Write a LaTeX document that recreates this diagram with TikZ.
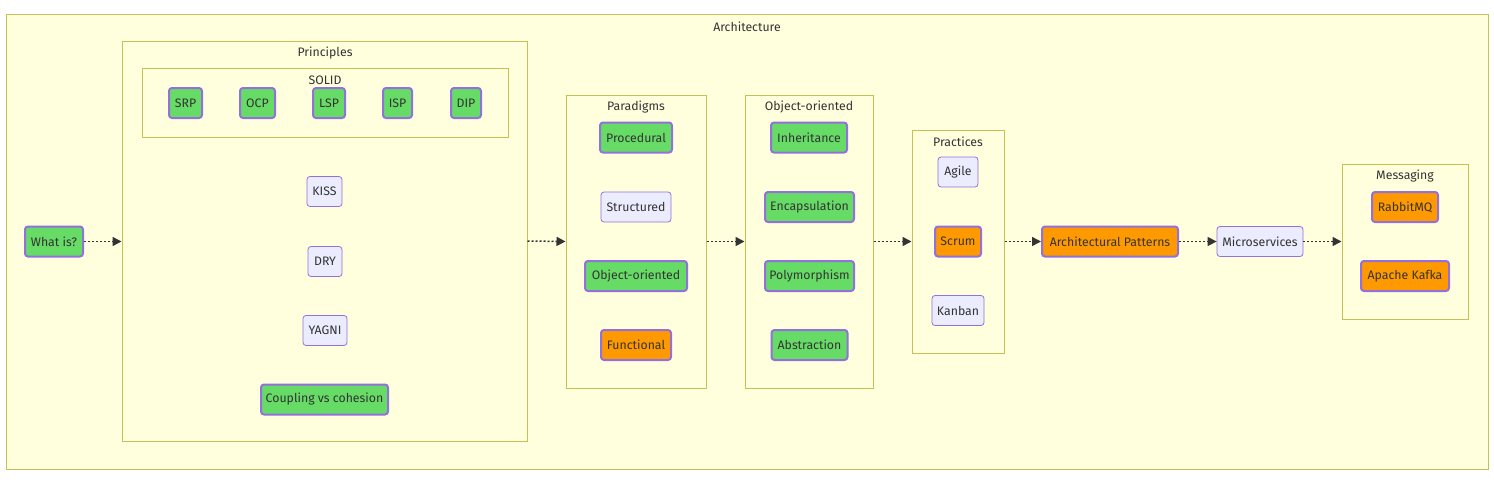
\documentclass[tikz,border=0pt]{standalone}
\usepackage{fontspec}
\setmainfont{Fira Sans}
\usetikzlibrary{arrows.meta}
\definecolor{clfill}{HTML}{FFFFDE}
\definecolor{clline}{HTML}{C2C255}
\definecolor{nfill}{HTML}{ECECFF}
\definecolor{nline}{HTML}{9370DB}
\definecolor{gfill}{HTML}{66DB66}
\definecolor{ofill}{HTML}{FF9900}
\definecolor{txt}{HTML}{333333}
\tikzset{
  cluster/.style={draw=clline, fill=clfill, line width=1pt, inner sep=0pt, rectangle},
  ctitle/.style={text=txt, font=\fontsize{12.3}{14}\selectfont, inner sep=0pt, anchor=center},
  base/.style={rectangle, rounded corners=3pt, text=txt, font=\fontsize{12.3}{14}\selectfont, inner sep=0pt, minimum height=30pt},
  plain/.style={base, draw=nline, fill=nfill, line width=0.8pt},
  green/.style={base, draw=nline, fill=gfill, line width=2pt},
  orange/.style={base, draw=nline, fill=ofill, line width=2pt},
  flow/.style={draw=txt, line width=1.5pt, dash pattern=on 2pt off 2pt, -{Triangle[length=9pt,width=9pt]}, shorten >=0pt}
}
\begin{document}
\begin{tikzpicture}[x=1pt,y=-1pt]
\useasboundingbox[fill=white] (0,0) rectangle (1494,482);
% outer
\node[cluster, minimum width=1482pt, minimum height=455pt] (arch) at (747,241.5) {};
\node[ctitle] (archt) at (747,26.5) {Architecture};
% principles
\node[cluster, minimum width=405pt, minimum height=400pt] (princ) at (324.5,241) {};
\node[ctitle] (princt) at (325,53.5) {Principles};
\node[cluster, minimum width=366pt, minimum height=69pt] (solid) at (325,102.5) {};
\node[ctitle] (solidt) at (325,80) {SOLID};
\node[green, minimum width=33pt] (srp) at (185.5,103) {SRP};
\node[green, minimum width=35pt] (ocp) at (257.5,103) {OCP};
\node[green, minimum width=32pt] (lsp) at (329,103) {LSP};
\node[green, minimum width=29pt] (isp) at (397.5,103) {ISP};
\node[green, minimum width=30pt] (dip) at (466,103) {DIP};
\node[plain, minimum width=35pt] (kiss) at (324.5,191.5) {KISS};
\node[plain, minimum width=34pt] (dry) at (325,261.5) {DRY};
\node[plain, minimum width=44pt] (yagni) at (325,330.5) {YAGNI};
\node[green, minimum width=127pt] (coup) at (324.5,399.5) {Coupling vs cohesion};
\node[green, minimum width=58pt] (what) at (54,241.5) {What is?};
% paradigms
\node[cluster, minimum width=140pt, minimum height=293pt] (para) at (636,241.5) {};
\node[ctitle] (parat) at (636,107) {Paradigms};
\node[green, minimum width=72pt] (proc) at (636,137.5) {Procedural};
\node[plain, minimum width=70pt] (struct) at (636,207) {Structured};
\node[green, minimum width=102pt] (oop) at (636,276) {Object-oriented};
\node[orange, minimum width=70pt] (func) at (636,345) {Functional};
% OO
\node[cluster, minimum width=128pt, minimum height=293pt] (oo) at (809,241.5) {};
\node[ctitle] (oot) at (809,107) {Object-oriented};
\node[green, minimum width=76pt] (inh) at (809,137.5) {Inheritance};
\node[green, minimum width=89pt] (enc) at (809.5,207) {Encapsulation};
\node[green, minimum width=89pt] (poly) at (809.5,276) {Polymorphism};
\node[green, minimum width=76pt] (abs) at (809.5,345) {Abstraction};
% practices
\node[cluster, minimum width=92pt, minimum height=223pt] (prac) at (958,241.5) {};
\node[ctitle] (pract) at (958,142) {Practices};
\node[plain, minimum width=40pt] (agile) at (958,172) {Agile};
\node[orange, minimum width=46pt] (scrum) at (958,241.5) {Scrum};
\node[plain, minimum width=52pt] (kanban) at (958,310.5) {Kanban};
% patterns
\node[orange, minimum width=136pt] (ap) at (1110,241.5) {Architectural Patterns};
\node[plain, minimum width=86pt] (micro) at (1260,241.5) {Microservices};
% messaging
\node[cluster, minimum width=126pt, minimum height=155pt] (msg) at (1405,241.5) {};
\node[ctitle] (msgt) at (1405,176) {Messaging};
\node[orange, minimum width=66pt] (rabbit) at (1405,207) {RabbitMQ};
\node[orange, minimum width=88pt] (kafka) at (1405,276) {Apache Kafka};
% arrows
\draw[flow] (what.east) -- (princ.west |- what.east);
\draw[flow] (princ.east) -- (para.west);
\draw[flow] (para.east) -- (oo.west);
\draw[flow] (oo.east) -- (prac.west);
\draw[flow] (prac.east) -- (ap.west);
\draw[flow] (ap.east) -- (micro.west);
\draw[flow] (micro.east) -- (msg.west);
\end{tikzpicture}
\end{document}
